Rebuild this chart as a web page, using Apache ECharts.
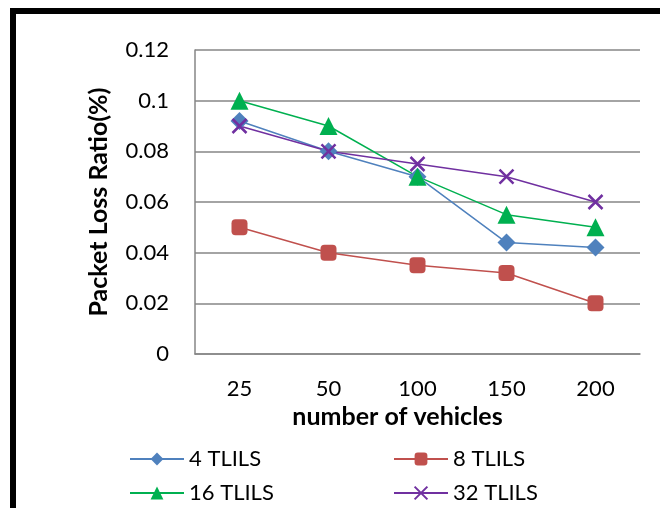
<!DOCTYPE html>
<html>
<head>
<meta charset="utf-8">
<script src="https://cdn.jsdelivr.net/npm/echarts@6/dist/echarts.min.js"></script>
<style>
  html, body { margin: 0; padding: 0; background: #fff; }
  #main { width: 660px; height: 508px; }
</style>
</head>
<body>
<div id="main"></div>
<script>
var categories = ['25', '50', '100', '150', '200'];
var seriesNames = ['4 TLILS', '8 TLILS', '16 TLILS', '32 TLILS'];
var tlils4 = [0.092, 0.08, 0.07, 0.044, 0.042];
var tlils8 = [0.05, 0.04, 0.035, 0.032, 0.02];
var tlils16 = [0.1, 0.09, 0.07, 0.055, 0.05];
var tlils32 = [0.09, 0.08, 0.075, 0.07, 0.06];

var chartDom = document.getElementById('main');
var myChart = echarts.init(chartDom);
var font = 'Lato, "Open Sans", sans-serif';
var crossPath = 'path://M0,0L10,10M10,0L0,10';

// one legend per entry so the 2x2 layout stays put
function legendAt(name, left, top) {
    return {
        left: left,
        top: top,
        itemWidth: 54,
        itemHeight: 16,
        textStyle: { fontSize: 22, color: '#000', fontFamily: font },
        data: [name]
    };
}

var option = {
    textStyle: { fontFamily: font },
    graphic: [{
        type: 'rect',
        shape: { x: 13, y: 11, width: 720, height: 600 },
        style: { fill: 'none', stroke: '#000', lineWidth: 6 }
    }],
    grid: {
        left: 195,
        right: 20,
        top: 50,
        bottom: 154
    },
    legend: [
        legendAt(seriesNames[0], 124, 443),
        legendAt(seriesNames[1], 388, 443),
        legendAt(seriesNames[2], 124, 477),
        legendAt(seriesNames[3], 388, 477)
    ],
    xAxis: {
        type: 'category',
        data: categories,
        name: 'number of vehicles',
        nameLocation: 'middle',
        nameGap: 49,
        nameTextStyle: { fontSize: 25, fontWeight: 'bold', color: '#000', padding: [0, 40, 0, 0] },
        axisLine: { lineStyle: { color: '#868686', width: 1.5 } },
        axisTick: { show: false },
        axisLabel: { fontSize: 22, color: '#000', margin: 24 }
    },
    yAxis: {
        type: 'value',
        min: 0,
        max: 0.12,
        interval: 0.02,
        name: 'Packet Loss Ratio(%)',
        nameLocation: 'middle',
        nameGap: 84,
        nameTextStyle: { fontSize: 25, fontWeight: 'bold', color: '#000' },
        axisLine: { show: true, lineStyle: { color: '#868686', width: 1.5 } },
        axisTick: { show: false },
        axisLabel: { fontSize: 22, color: '#000', margin: 26 },
        splitLine: { lineStyle: { color: '#868686', width: 1.5 } }
    },
    series: [{
        name: seriesNames[0],
        type: 'line',
        data: tlils4,
        symbol: 'diamond',
        symbolSize: 18,
        lineStyle: { color: '#4F81BD', width: 1.5 },
        itemStyle: { color: '#4F81BD' }
    }, {
        name: seriesNames[1],
        type: 'line',
        data: tlils8,
        symbol: 'roundRect',
        symbolSize: 16,
        lineStyle: { color: '#C0504D', width: 1.5 },
        itemStyle: { color: '#C0504D' }
    }, {
        name: seriesNames[2],
        type: 'line',
        data: tlils16,
        symbol: 'triangle',
        symbolSize: 18,
        lineStyle: { color: '#00B050', width: 1.5 },
        itemStyle: { color: '#00B050' }
    }, {
        name: seriesNames[3],
        type: 'line',
        data: tlils32,
        symbol: crossPath,
        symbolSize: 14,
        lineStyle: { color: '#7030A0', width: 1.5 },
        itemStyle: { color: 'none', borderColor: '#7030A0', borderWidth: 2.5 }
    }]
};

option && myChart.setOption(option);
</script>
</body>
</html>
